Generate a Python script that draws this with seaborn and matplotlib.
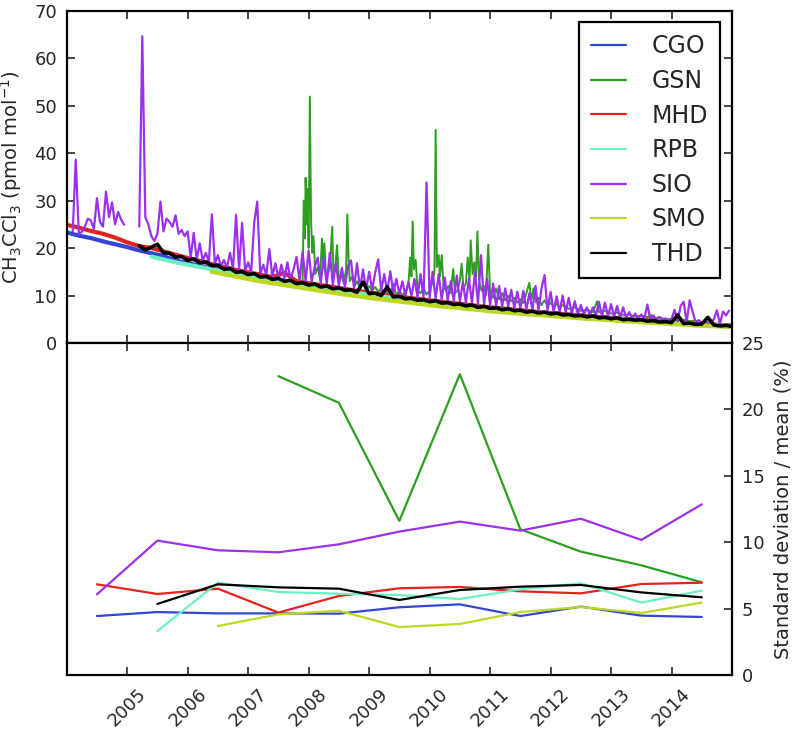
import numpy as np
import pandas as pd
import matplotlib
matplotlib.use("Agg")
import matplotlib.pyplot as plt
import seaborn as sns

# ---------------- data ----------------
stations = ["CGO", "GSN", "MHD", "RPB", "SIO", "SMO", "THD"]
colors = {"CGO": "#3346d3", "GSN": "#2c9f1f", "MHD": "#e3231c", "RPB": "#6af2c4",
          "SIO": "#9b30ef", "SMO": "#bcd822", "THD": "#000000"}

# Top panel: CH3CCl3 mole fractions (pmol/mol); regular time grids (start, step)
cgo_start, cgo_step = 2004.0, 0.2
cgo_v = [23.3, 22.6, 22.1, 21.4, 20.8, 20.2, 19.5, 18.9, 18.3, 17.4, 16.8, 16.3, 15.7, 15.2,
         14.7, 14.2, 13.8, 13.3, 12.9, 12.5, 12.0, 11.6, 11.2, 10.8, 10.5, 10.1, 9.8, 9.5,
         9.1, 8.8, 8.5, 8.2, 7.9, 7.7, 7.4, 7.1, 6.9, 6.7, 6.4, 6.2, 6.0, 5.8, 5.6, 5.4,
         5.2, 5.0, 4.9, 4.7, 4.5, 4.4, 4.2, 4.1, 3.9, 3.8, 3.6, 3.5]

mhd_start, mhd_step = 2004.0, 0.2
mhd_v = [24.9, 24.3, 23.6, 23.0, 22.2, 21.2, 20.4, 20.0, 19.3, 18.6, 17.9, 17.3, 16.6, 16.0,
         15.4, 14.9, 14.4, 13.9, 14.8, 13.0, 12.6, 12.2, 11.8, 11.4, 11.0, 10.6, 10.3, 9.9,
         9.6, 9.3, 9.0, 8.7, 8.4, 8.1, 7.8, 7.5, 7.3, 7.0, 6.8, 6.5, 6.3, 6.1, 5.9, 5.7,
         5.5, 5.3, 5.1, 4.9, 4.8, 4.6, 4.4, 4.3, 4.1, 4.0, 3.8, 3.7]

rpb_start, rpb_step = 2005.4, 0.2
rpb_v = [18.2, 17.6, 17.0, 16.5, 16.0, 15.5, 15.0, 14.5, 14.1, 13.7, 13.2, 12.8, 12.4, 12.0,
         11.6, 11.2, 10.8, 10.5, 10.2, 9.8, 9.5, 9.2, 8.9, 8.6, 8.3, 8.0, 7.8, 7.5, 7.2,
         7.0, 6.8, 6.5, 6.3, 6.1, 5.9, 5.7, 5.5, 5.3, 5.1, 5.0, 4.8, 4.6, 4.5, 4.3, 4.2,
         4.0, 3.9, 3.7, 3.6]

smo_start, smo_step = 2006.4, 0.2
smo_v = [15.0, 14.5, 14.0, 13.5, 13.0, 12.6, 12.2, 11.8, 11.4, 11.0, 10.6, 10.2, 9.9, 9.5,
         9.2, 8.9, 8.6, 8.3, 8.0, 7.7, 7.5, 7.2, 7.0, 6.7, 6.5, 6.3, 6.1, 5.9, 5.7, 5.5,
         5.3, 5.1, 5.0, 4.8, 4.6, 4.5, 4.3, 4.2, 4.0, 3.9, 3.7, 3.6, 3.5, 3.4]

thd_start, thd_step = 2005.2, 0.1
thd_v = [20.5, 19.6, 20.2, 20.8, 19.0, 18.9, 18.1, 18.2, 17.4, 17.7, 16.9, 17.1, 16.3, 16.4,
         15.5, 15.7, 14.9, 15.0, 14.4, 14.6, 13.9, 14.0, 13.4, 13.6, 13.0, 13.2, 12.5, 12.7,
         12.2, 12.4, 11.8, 12.0, 11.4, 11.6, 11.1, 11.2, 10.7, 12.8, 10.4, 10.5, 10.0, 11.8,
         9.7, 9.8, 9.3, 9.4, 9.0, 9.1, 8.7, 8.9, 8.4, 8.5, 8.1, 8.2, 7.8, 8.0, 7.5, 7.7,
         7.3, 7.4, 7.0, 7.2, 6.8, 6.9, 6.5, 6.7, 6.3, 6.5, 6.1, 6.3, 5.9, 6.0, 5.7, 5.8,
         5.5, 5.7, 5.3, 5.4, 5.1, 5.3, 4.9, 5.0, 4.8, 4.9, 4.6, 4.7, 4.4, 4.5, 4.3, 5.9,
         4.1, 4.2, 3.9, 4.0, 5.4, 3.8, 3.6, 3.7, 3.5]

sio_start, sio_step = 2004.10, 0.05
sio_v = [23.5, 38.6, 23.0, 23.4, 24.5, 26.2, 25.8, 24.0, 30.5, 25.5, 24.5, 31.9, 26.5, 29.6,
         25.0, 27.6, 26.0, 24.9,
         np.nan, np.nan, np.nan, np.nan, 24.5, 64.6, 26.5, 25.0, 22.5, 21.5, 23.0, 29.8, 23.5,
         26.2, 25.5, 24.5, 26.9, 23.0, 23.8, 22.5,
         23.5, 18.0, 23.2, 17.6, 21.0, 17.3, 19.0, 17.0, 27.1, 16.7, 18.5, 16.2, 17.5, 15.9,
         19.0, 15.6, 27.0, 15.4, 25.3, 15.2,
         17.0, 14.9, 25.3, 29.8, 14.6, 16.5, 14.3, 19.8, 14.0, 16.8, 13.8, 16.5, 13.6, 17.0,
         13.4, 15.5, 18.1, 13.1, 19.2, 13.0,
         19.5, 12.9, 16.0, 18.0, 12.6, 17.8, 12.4, 19.0, 12.2, 16.8, 12.0, 15.8, 11.8, 16.2,
         17.4, 11.6, 16.8, 11.4, 15.5, 11.2,
         15.0, 11.2, 14.8, 17.6, 11.0, 14.5, 10.8, 15.1, 10.5, 13.5, 10.3, 13.0, 10.0, 12.8,
         9.9, 13.5, 9.7, 14.5, 9.6, 33.8,
         9.5, 15.0, 9.3, 14.5, 9.1, 13.8, 9.0, 13.0, 8.8, 14.2, 8.7, 12.8, 8.5, 13.5, 8.4,
         15.0, 8.2, 18.5, 8.1, 13.5,
         8.0, 12.5, 7.8, 12.0, 7.7, 11.5, 7.6, 11.2, 7.4, 10.8, 7.3, 11.0, 7.1, 10.5, 7.0,
         12.0, 6.9, 11.5, 14.3, 6.8,
         10.8, 6.6, 9.8, 6.5, 10.0, 6.4, 9.5, 6.2, 8.8, 6.1, 8.0, 6.0, 7.5, 5.9, 7.5, 5.8,
         8.7, 5.7, 8.5, 5.6,
         8.2, 5.5, 7.8, 5.4, 7.5, 5.3, 6.5, 5.2, 6.2, 5.1, 6.0, 5.0, 8.1, 4.9, 5.8, 4.8,
         5.5, 4.7, 5.2, 4.6,
         5.0, 7.0, 4.5, 7.8, 8.7, 4.4, 9.0, 6.5, 4.3, 4.8, 4.2, 4.4, 4.1, 4.2, 5.0, 6.9,
         4.0, 6.6, 5.8, 6.8]

gsn_t = [2007.90, 2007.92, 2007.94, 2007.95, 2007.97, 2007.98, 2008.00, 2008.02, 2008.04,
         2008.06, 2008.08, 2008.11, 2008.15, 2008.19, 2008.22, 2008.24, 2008.26, 2008.29,
         2008.33, 2008.36, 2008.39, 2008.41, 2008.44, 2008.47, 2008.50, 2008.54, 2008.58,
         2008.62, 2008.64, 2008.66, 2008.68, 2008.72, 2008.76, 2008.80, 2008.85, 2008.90,
         2008.95, 2009.00, 2009.05, 2009.10, 2009.15, 2009.20, 2009.25, 2009.30, 2009.35,
         2009.40, 2009.45, 2009.50, 2009.55, 2009.60, 2009.65, 2009.68, 2009.70, 2009.72,
         2009.74, 2009.77, 2009.80, 2009.85, 2009.90, 2009.95, 2010.00, 2010.04, 2010.08,
         2010.10, 2010.12, 2010.15, 2010.17, 2010.20, 2010.23, 2010.27, 2010.31, 2010.35,
         2010.39, 2010.42, 2010.46, 2010.50, 2010.53, 2010.56, 2010.60, 2010.63, 2010.66,
         2010.68, 2010.71, 2010.74, 2010.77, 2010.79, 2010.82, 2010.86, 2010.90, 2010.93,
         2010.97, 2011.00, 2011.05, 2011.10, 2011.15, 2011.20, 2011.25, 2011.30, 2011.35,
         2011.40, 2011.45, 2011.50, 2011.55, 2011.60, 2011.65, 2011.68, 2011.72, 2011.76,
         2011.80, 2011.85, 2011.90, 2011.95, 2012.00, 2012.05, 2012.10, 2012.15, 2012.20,
         2012.30, 2012.40, 2012.50, 2012.60, 2012.70, 2012.77, 2012.80, 2012.90, 2013.00,
         2013.10, 2013.20, 2013.30, 2013.40, 2013.50, 2013.60, 2013.67, 2013.70, 2013.80,
         2013.90, 2014.00, 2014.10, 2014.20, 2014.30, 2014.40, 2014.50, 2014.60]
gsn_v = [13.0, 30.0, 22.0, 34.8, 25.0, 32.5, 20.0, 51.9, 26.0,
         19.0, 22.5, 14.5, 16.0, 13.5, 22.0, 17.0, 21.0, 13.5,
         15.0, 18.0, 24.5, 14.0, 16.0, 20.6, 13.0, 14.5, 12.5,
         15.5, 27.1, 18.0, 13.0, 14.0, 12.0, 13.0, 11.5, 12.5,
         11.2, 12.0, 11.0, 11.8, 10.8, 11.5, 10.5, 11.0, 10.2,
         12.5, 10.0, 11.0, 10.0, 10.8, 12.5, 18.0, 14.0, 25.6,
         15.5, 17.5, 11.0, 10.5, 11.5, 10.2, 11.0, 12.5, 15.0,
         44.9, 16.0, 18.5, 14.0, 18.5, 12.0, 11.0, 12.0, 10.5,
         15.6, 10.5, 11.0, 13.0, 16.7, 11.5, 12.5, 18.0, 13.0,
         21.6, 14.5, 17.0, 14.0, 23.5, 13.0, 11.0, 12.0, 10.0,
         20.7, 10.5, 9.5, 11.5, 9.2, 10.5, 9.0, 10.0, 8.8,
         9.5, 8.5, 9.2, 8.4, 10.5, 12.7, 9.0, 11.5, 8.5,
         9.5, 8.0, 9.0, 7.8, 8.5, 7.6, 8.2, 7.4, 8.0,
         7.2, 7.5, 6.8, 7.0, 6.5, 8.8, 6.5, 6.8, 6.2,
         6.4, 5.9, 6.0, 5.6, 5.8, 5.4, 5.9, 5.2, 5.4,
         5.0, 5.1, 4.8, 4.9, 4.6, 4.7, 4.4, 4.5]

# Bottom panel: annual standard deviation / mean (%)
cgo_yr, cgo_sd = [2004.5, 2005.5, 2006.5, 2007.5, 2008.5, 2009.5, 2010.5, 2011.5, 2012.5, 2013.5, 2014.5], \
    [4.44, 4.74, 4.64, 4.64, 4.62, 5.10, 5.32, 4.44, 5.15, 4.47, 4.37]
gsn_yr, gsn_sd = [2007.5, 2008.5, 2009.5, 2010.5, 2011.5, 2012.5, 2013.5, 2014.5], \
    [22.5, 20.5, 11.6, 22.65, 10.97, 9.29, 8.26, 6.98]
mhd_yr, mhd_sd = [2004.5, 2005.5, 2006.5, 2007.5, 2008.5, 2009.5, 2010.5, 2011.5, 2012.5, 2013.5, 2014.5], \
    [6.83, 6.10, 6.50, 4.70, 5.95, 6.53, 6.63, 6.30, 6.15, 6.85, 6.95]
rpb_yr, rpb_sd = [2005.5, 2006.5, 2007.5, 2008.5, 2009.5, 2010.5, 2011.5, 2012.5, 2013.5, 2014.5], \
    [3.31, 6.95, 6.25, 6.12, 6.02, 5.72, 6.45, 6.90, 5.45, 6.35]
sio_yr, sio_sd = [2004.5, 2005.5, 2006.5, 2007.5, 2008.5, 2009.5, 2010.5, 2011.5, 2012.5, 2013.5, 2014.5], \
    [6.07, 10.12, 9.39, 9.24, 9.84, 10.80, 11.55, 10.87, 11.77, 10.17, 12.85]
smo_yr, smo_sd = [2006.5, 2007.5, 2008.5, 2009.5, 2010.5, 2011.5, 2012.5, 2013.5, 2014.5], \
    [3.69, 4.57, 4.84, 3.61, 3.84, 4.74, 5.12, 4.67, 5.45]
thd_yr, thd_sd = [2005.5, 2006.5, 2007.5, 2008.5, 2009.5, 2010.5, 2011.5, 2012.5, 2013.5, 2014.5], \
    [5.35, 6.83, 6.60, 6.50, 5.65, 6.40, 6.65, 6.78, 6.22, 5.85]

year_ticks = [2005, 2006, 2007, 2008, 2009, 2010, 2011, 2012, 2013, 2014]
year_labels = ["2005", "2006", "2007", "2008", "2009", "2010", "2011", "2012", "2013", "2014"]


def grid(start, step, vals):
    return np.round(start + step * np.arange(len(vals)), 3)


def frame(t, v):
    v = np.asarray(v, dtype=float)
    seg = np.cumsum(np.isnan(v))
    df = pd.DataFrame({"t": t, "v": v, "seg": seg})
    return df.dropna()


top = {
    "CGO": frame(grid(cgo_start, cgo_step, cgo_v), cgo_v),
    "GSN": frame(np.array(gsn_t), gsn_v),
    "MHD": frame(grid(mhd_start, mhd_step, mhd_v), mhd_v),
    "RPB": frame(grid(rpb_start, rpb_step, rpb_v), rpb_v),
    "SIO": frame(grid(sio_start, sio_step, sio_v), sio_v),
    "SMO": frame(grid(smo_start, smo_step, smo_v), smo_v),
    "THD": frame(grid(thd_start, thd_step, thd_v), thd_v),
}
top_lw = {"CGO": 3.0, "GSN": 1.4, "MHD": 3.0, "RPB": 3.0, "SIO": 1.6, "SMO": 3.2, "THD": 2.6}

bottom = pd.concat([
    pd.DataFrame({"station": s, "year": y, "sd": d}) for s, y, d in [
        ("CGO", cgo_yr, cgo_sd), ("GSN", gsn_yr, gsn_sd), ("MHD", mhd_yr, mhd_sd),
        ("RPB", rpb_yr, rpb_sd), ("SIO", sio_yr, sio_sd), ("SMO", smo_yr, smo_sd),
        ("THD", thd_yr, thd_sd)]
], ignore_index=True)

# ---------------- style ----------------
sns.set_style("ticks")
plt.rcParams["font.family"] = ["DejaVu Sans"]
plt.rcParams["mathtext.fontset"] = "dejavusans"
plt.rcParams["axes.linewidth"] = 1.6
plt.rcParams["axes.edgecolor"] = "black"

fig = plt.figure(figsize=(7.93, 7.31), dpi=100)
ax1 = fig.add_axes([0.0841, 0.5308, 0.8390, 0.4546])
ax2 = fig.add_axes([0.0841, 0.0766, 0.8390, 0.4542], sharex=ax1)

for s in stations:
    d = top[s]
    sns.lineplot(data=d, x="t", y="v", units="seg", estimator=None, color=colors[s],
                 lw=top_lw[s], label=s, ax=ax1, legend=False)

sns.lineplot(data=bottom, x="year", y="sd", hue="station", hue_order=stations,
             palette=colors, estimator=None, lw=1.6, ax=ax2, legend=False)

# ---------------- axes formatting ----------------
ax1.set_xlim(2004, 2015)
ax1.set_ylim(0, 70)
ax1.set_yticks(range(0, 71, 10))
ax1.set_xticks(year_ticks)
ax1.set_xlabel("")
ax1.set_ylabel(r"CH$_3$CCl$_3$ (pmol mol$^{-1}$)", fontsize=14, labelpad=7)
ax1.tick_params(axis="both", which="major", direction="in", top=True, bottom=True,
                left=True, right=True, labelbottom=False, labelsize=13,
                length=6, width=1.2, pad=7)

ax2.set_ylim(0, 25)
ax2.set_yticks(range(0, 26, 5))
ax2.yaxis.tick_right()
ax2.yaxis.set_label_position("right")
ax2.set_ylabel("Standard deviation / mean (%)", fontsize=14, labelpad=6)
ax2.set_xlabel("")
ax2.set_xticks(year_ticks)
ax2.set_xticklabels(year_labels, rotation=45, ha="center")
ax2.tick_params(axis="both", which="major", direction="in", top=True, bottom=True,
                labelsize=13, length=6, width=1.2, pad=7)
ax2.tick_params(axis="y", left=False, right=True, labelleft=False, labelright=True)

for ax in (ax1, ax2):
    for sp in ax.spines.values():
        sp.set_visible(True)
        sp.set_linewidth(1.6)

handles, labels = ax1.get_legend_handles_labels()
uniq = {}
for h, l in zip(handles, labels):
    if l not in uniq:
        uniq[l] = h
leg = ax1.legend([uniq[s] for s in stations], stations, loc="upper right", fontsize=17,
                 frameon=True, fancybox=False, edgecolor="black", framealpha=1,
                 borderpad=0.5, labelspacing=0.45, handlelength=1.5, handletextpad=1.1,
                 borderaxespad=0.5)
leg.get_frame().set_linewidth(1.6)
for ln in leg.get_lines():
    ln.set_linewidth(1.6)

fig.savefig("out.png", dpi=100)
